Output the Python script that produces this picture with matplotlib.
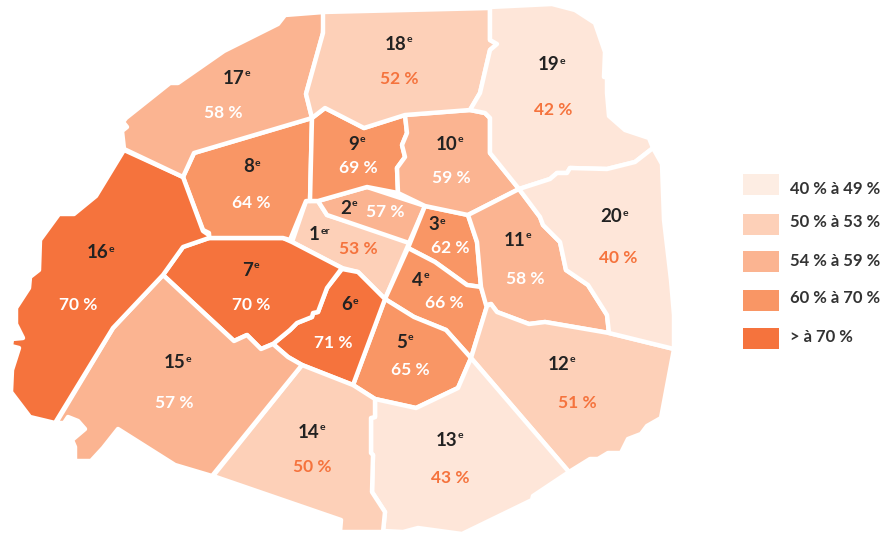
import matplotlib
matplotlib.use('Agg')
import matplotlib.pyplot as plt
from matplotlib.patches import Polygon, Rectangle

plt.rcParams['font.family'] = ['Lato', 'DejaVu Sans']

# contours des arrondissements (pixels)
arr_1 = [(306, 201), (318, 201), (327, 215), (410, 241), (385, 299), (358, 272), (342, 268), (292, 242)]
arr_2 = [(318, 201), (367, 187), (425, 206), (409, 243), (327, 215)]
arr_3 = [(425, 206), (468, 215), (477, 242), (481, 287), (467, 285), (435, 262), (408, 248)]
arr_4 = [(408, 248), (435, 262), (467, 285), (481, 287), (487, 306), (471, 358), (446, 330), (414, 317), (385, 299)]
arr_5 = [(385, 299), (414, 317), (446, 330), (471, 358), (458, 388), (416, 408), (375, 399), (353, 385)]
arr_6 = [(342, 269), (358, 272), (385, 299), (353, 385), (302, 365), (288, 357), (273, 344), (290, 330),
         (297, 323), (312, 317), (313, 313), (318, 312), (327, 288)]
arr_7 = [(209, 238), (283, 238), (292, 242), (342, 268), (327, 288), (318, 312), (313, 313), (312, 317),
         (297, 323), (290, 330), (273, 344), (261, 349), (247, 335), (234, 341), (163, 275), (183, 247)]
arr_8 = [(312, 118), (310, 201), (306, 201), (290, 240), (283, 238), (209, 238), (209, 233), (203, 230),
         (183, 177), (194, 153)]
arr_9 = [(312, 118), (325, 108), (364, 128), (405, 115), (407, 133), (402, 145), (405, 157), (397, 168),
         (398, 193), (367, 187), (318, 201), (310, 201)]
arr_10 = [(405, 115), (470, 110), (485, 113), (490, 118), (490, 153), (519, 189), (468, 215), (425, 206),
          (398, 193), (397, 168), (405, 157), (402, 145), (407, 133)]
arr_11 = [(468, 215), (519, 189), (540, 217), (543, 225), (560, 242), (566, 270), (588, 285), (607, 315),
          (609, 333), (545, 322), (529, 324), (497, 312), (491, 304), (486, 305), (481, 287), (477, 242)]
arr_12 = [(674, 349), (661, 418), (647, 426), (641, 434), (628, 439), (621, 453), (608, 453), (598, 459),
          (590, 459), (569, 472), (471, 358), (487, 306), (491, 304), (497, 312), (529, 324), (545, 322),
          (609, 333)]
arr_13 = [(375, 399), (416, 408), (458, 388), (471, 358), (569, 472), (533, 496), (532, 500), (462, 534),
          (418, 528), (403, 532), (383, 531), (385, 512), (372, 492), (373, 455), (371, 453), (371, 418),
          (375, 417)]
arr_14 = [(302, 365), (353, 385), (375, 399), (375, 417), (371, 418), (371, 453), (373, 455), (372, 492),
          (385, 512), (383, 532), (340, 532), (341, 520), (213, 476)]
arr_15 = [(163, 275), (234, 341), (247, 335), (261, 349), (273, 344), (288, 357), (302, 365), (212, 476),
          (175, 465), (118, 429), (103, 448), (91, 461), (75, 461), (75, 447), (72, 440), (85, 429),
          (78, 421), (68, 417), (64, 423), (56, 423), (113, 328)]
arr_16 = [(124, 150), (183, 177), (203, 231), (209, 235), (209, 238), (183, 247), (163, 275), (113, 328),
          (55, 423), (30, 417), (11, 392), (12, 370), (19, 348), (11, 346), (12, 339), (23, 338), (16, 324),
          (16, 308), (29, 288), (30, 277), (39, 270), (40, 240), (59, 214), (74, 214), (96, 196)]
arr_17 = [(124, 149), (122, 131), (127, 127), (123, 122), (126, 118), (170, 83), (178, 83), (224, 51),
          (278, 24), (285, 15), (324, 12), (323, 33), (306, 94), (312, 118), (194, 153), (183, 177)]
arr_18 = [(323, 12), (490, 8), (490, 40), (497, 44), (490, 50), (480, 93), (470, 110), (405, 115), (364, 128),
          (325, 108), (312, 118), (306, 94), (323, 33)]
arr_19 = [(490, 7), (552, 4), (575, 10), (595, 23), (605, 52), (604, 77), (607, 77), (607, 93), (609, 116),
          (625, 130), (649, 138), (653, 148), (635, 162), (607, 169), (570, 168), (567, 173), (557, 173),
          (550, 179), (519, 189), (490, 153), (490, 118), (485, 113), (470, 110), (480, 93), (490, 50),
          (497, 44), (490, 40)]
arr_20 = [(519, 189), (550, 179), (557, 173), (567, 173), (570, 168), (607, 169), (635, 162), (653, 148),
          (662, 164), (664, 220), (671, 280), (674, 315), (674, 349), (609, 333), (607, 315), (588, 285),
          (566, 270), (560, 242), (543, 225), (540, 217)]
contours = [arr_1, arr_2, arr_3, arr_4, arr_5, arr_6, arr_7, arr_8, arr_9, arr_10,
            arr_11, arr_12, arr_13, arr_14, arr_15, arr_16, arr_17, arr_18, arr_19, arr_20]

numeros = ['1', '2', '3', '4', '5', '6', '7', '8', '9', '10',
           '11', '12', '13', '14', '15', '16', '17', '18', '19', '20']
suffixes = ['er'] + ['e'] * 19
valeurs = [53, 57, 62, 66, 65, 71, 70, 64, 69, 59, 58, 51, 43, 50, 57, 70, 58, 52, 42, 40]
classes = [1, 2, 3, 3, 3, 4, 4, 3, 3, 2, 2, 1, 0, 1, 2, 4, 2, 1, 0, 0]

# position de la jonction numero/exposant, et du pourcentage
pos_numero = [(320, 235), (351, 208), (439, 225), (423, 280), (407, 342), (352, 305), (253, 270), (254, 167),
              (359, 144), (457, 144), (525, 240), (569, 364), (457, 440), (319, 432), (185, 363), (108, 253),
              (244, 78), (406, 44), (559, 65), (622, 217)]
pos_valeur = [(358, 249), (385, 212), (450, 248), (444, 303), (410, 370), (333, 343), (251, 305), (251, 203),
              (358, 168), (451, 178), (525, 279), (577, 403), (450, 478), (312, 467), (174, 403), (78, 305),
              (223, 113), (399, 79), (553, 110), (618, 258)]

couleurs = ['#FEE6D9', '#FDD0B8', '#FBB491', '#F99665', '#F5733D']
couleurs_legende = ['#FDEDE3', '#FDD0B8', '#FBB491', '#F99665', '#F5733D']
textes_legende = ['40 % à 49 %', '50 % à 53 %', '54 % à 59 %', '60 % à 70 %', '> à 70 %']
y_cases = [174, 214, 251, 290, 328]
y_textes = [189, 222, 261, 298, 337]

fig = plt.figure(figsize=(8.86, 5.34), dpi=100)
ax = fig.add_axes([0, 0, 1, 1])
ax.set_xlim(0, 886)
ax.set_ylim(534, 0)
ax.axis('off')

for i in range(len(contours)):
    ax.add_patch(Polygon(contours[i], closed=True, facecolor=couleurs[classes[i]],
                         edgecolor='white', linewidth=3.2, joinstyle='round'))

for i in range(len(contours)):
    x, y = pos_numero[i]
    ax.text(x, y, numeros[i], ha='right', va='center', fontsize=13.5, fontweight='bold', color='#222222')
    ax.text(x + 1, y - 4, suffixes[i], ha='left', va='center', fontsize=7.5, fontweight='bold', color='#222222')
    couleur_val = '#F5733D' if classes[i] < 2 else 'white'
    x, y = pos_valeur[i]
    ax.text(x, y, str(valeurs[i]) + ' %', ha='center', va='center', fontsize=12.5, fontweight='bold', color=couleur_val)

for i in range(len(textes_legende)):
    ax.add_patch(Rectangle((743, y_cases[i]), 36, 21, facecolor=couleurs_legende[i], edgecolor='none'))
    ax.text(790, y_textes[i], textes_legende[i], ha='left', va='center', fontsize=12, fontweight='bold', color='#333333')

fig.savefig('out.png', dpi=100)
